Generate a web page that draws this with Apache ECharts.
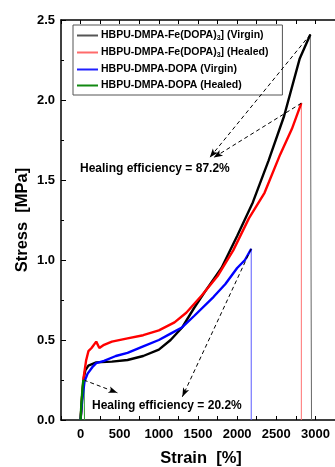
<!DOCTYPE html>
<html>
<head>
<meta charset="utf-8">
<script src="https://cdn.jsdelivr.net/npm/echarts@6/dist/echarts.min.js"></script>
<style>
  html, body { margin: 0; padding: 0; background: #fff; }
  #chart { width: 335px; height: 467px; }
</style>
</head>
<body>
<div id="chart"></div>
<script>
// HBPU-DMPA-Fe(DOPA)3 virgin
const feVirginStrain = [0, 20, 40, 60, 100, 200, 400, 600, 800, 1000, 1150, 1300, 1450, 1600, 1800, 2000, 2200, 2400, 2600, 2800, 2935]
const feVirginStress = [0, 0.15, 0.26, 0.31, 0.34, 0.36, 0.365, 0.375, 0.40, 0.44, 0.50, 0.58, 0.70, 0.81, 0.95, 1.15, 1.36, 1.62, 1.90, 2.26, 2.41]
// HBPU-DMPA-Fe(DOPA)3 healed
const feHealedStrain = [0, 20, 40, 70, 100, 140, 200, 240, 300, 400, 600, 800, 1000, 1200, 1350, 1550, 1750, 1950, 2150, 2350, 2550, 2700, 2820]
const feHealedStress = [0, 0.15, 0.27, 0.37, 0.43, 0.45, 0.49, 0.45, 0.47, 0.49, 0.51, 0.53, 0.56, 0.61, 0.67, 0.78, 0.90, 1.06, 1.26, 1.42, 1.66, 1.82, 1.98]
// HBPU-DMPA-DOPA virgin
const dopaVirginStrain = [0, 20, 50, 90, 150, 200, 300, 450, 600, 800, 1000, 1150, 1300, 1450, 1700, 1850, 2000, 2100, 2180]
const dopaVirginStress = [0, 0.12, 0.24, 0.29, 0.33, 0.355, 0.37, 0.40, 0.42, 0.46, 0.50, 0.54, 0.58, 0.65, 0.77, 0.85, 0.95, 1.00, 1.07]
// HBPU-DMPA-DOPA healed
const dopaHealedStrain = [0, 10, 25, 35, 45]
const dopaHealedStress = [0, 0.10, 0.20, 0.25, 0.24]
// strain at which each sample breaks
const breakStrain = [2950, 2820, 2180, 50]

const xTicks = [0, 500, 1000, 1500, 2000, 2500, 3000]

const upperArrows = [[[2935, 2.41], [1650, 1.64]], [[2820, 1.98], [1700, 1.64]]]
const lowerArrows = [[[40, 0.25], [470, 0.17]], [[2180, 1.07], [1300, 0.145]]]

const names = [
  'HBPU-DMPA-Fe(DOPA)3] (Virgin)',
  'HBPU-DMPA-Fe(DOPA)3] (Healed)',
  'HBPU-DMPA-DOPA (Virgin)',
  'HBPU-DMPA-DOPA (Healed)'
]
const colors = ['#000000', '#ff0000', '#0000ff', '#008000']
const dropColors = ['#666666', '#ff7070', '#5a5aff', '#2a9a2a']
const legendColors = ['#555555', '#ff6b6b', '#2020ff', '#118811']

const font = '"Liberation Sans", Arial, sans-serif'
const curves = [
  [feVirginStrain, feVirginStress],
  [feHealedStrain, feHealedStress],
  [dopaVirginStrain, dopaVirginStress],
  [dopaHealedStrain, dopaHealedStress]
]

function arrowData(list) {
  return list.map(([a, b]) => [
    { coord: a, symbol: 'none' },
    { coord: b, symbol: 'arrow', symbolSize: [5, 9] }
  ])
}

const series = []
curves.forEach(([xs, ys], i) => {
  series.push({
    type: 'line',
    name: names[i],
    data: xs.map((x, k) => [x, ys[k]]),
    symbol: 'none',
    lineStyle: { width: 2.4, color: colors[i] },
    itemStyle: { color: colors[i] },
    z: 3 + (i === 3 ? 2 : 0)
  })
  const last = xs.length - 1
  series.push({
    type: 'line',
    name: names[i] + ' break',
    data: [[xs[last], ys[last]], [breakStrain[i], ys[last]], [breakStrain[i], 0]],
    symbol: 'none',
    silent: true,
    lineStyle: { width: 1, color: dropColors[i] },
    z: 2
  })
})

series.push({
  type: 'line',
  name: 'arrows',
  data: [],
  silent: true,
  markLine: {
    silent: true,
    animation: false,
    label: { show: false },
    lineStyle: { color: '#000', type: [4, 3], width: 1 },
    data: arrowData(upperArrows).concat(arrowData(lowerArrows))
  }
})

const chart = echarts.init(document.getElementById('chart'))
chart.setOption({
  animation: false,
  textStyle: { fontFamily: font },
  grid: { left: 61, top: 20, right: 0, bottom: 47, outerBoundsMode: 'none', containLabel: false },
  legend: {
    data: names.map((n, i) => ({ name: n, itemStyle: { color: legendColors[i] } })),
    orient: 'vertical',
    left: 73,
    top: 25,
    padding: [5, 14, 4, 4],
    itemGap: 5,
    itemWidth: 21,
    itemHeight: 2,
    icon: 'rect',
    borderColor: '#555',
    borderWidth: 1,
    selectedMode: false,
    formatter: (n) => {
      if (n.indexOf('(DOPA)3]') >= 0) {
        const parts = n.split('(DOPA)3]')
        return '{a|' + parts[0] + '(DOPA)}{s|3}{a|]' + parts[1] + '}'
      }
      return '{a|' + n + '}'
    },
    textStyle: {
      fontFamily: font,
      fontWeight: 'bold',
      fontSize: 10.5,
      color: '#000',
      padding: [0, 0, 0, -2],
      rich: {
        a: { fontFamily: font, fontWeight: 'bold', fontSize: 10.5, color: '#000' },
        s: { fontFamily: font, fontWeight: 'bold', fontSize: 7, color: '#000', verticalAlign: 'bottom', padding: [6, 0, 0, 0] }
      }
    }
  },
  xAxis: [
    {
      type: 'value',
      min: -250,
      max: 3250,
      interval: 250,
      name: 'Strain  [%]',
      nameLocation: 'middle',
      nameGap: 30,
      nameMoveOverlap: false,
      nameTextStyle: { fontFamily: font, fontWeight: 'bold', fontSize: 16.5, color: '#000', padding: [0, 0, 0, 6] },
      axisLine: { show: true, onZero: false, lineStyle: { color: '#000', width: 1.5 } },
      axisTick: { show: true, inside: true, length: 4, lineStyle: { color: '#000', width: 1 } },
      axisLabel: {
        fontFamily: font, fontWeight: 'bold', fontSize: 13, color: '#000', margin: 8,
        formatter: (v) => (xTicks.indexOf(v) >= 0 ? String(v) : '')
      },
      splitLine: { show: false }
    },
    {
      type: 'value',
      position: 'top',
      min: -250,
      max: 3250,
      interval: 250,
      axisLine: { show: true, onZero: false, lineStyle: { color: '#000', width: 1.5 } },
      axisTick: { show: true, inside: true, length: 4, lineStyle: { color: '#000', width: 1 } },
      axisLabel: { show: false },
      splitLine: { show: false }
    }
  ],
  yAxis: {
    type: 'value',
    min: 0,
    max: 2.5,
    interval: 0.5,
    name: 'Stress  [MPa]',
    nameLocation: 'middle',
    nameGap: 30,
    nameMoveOverlap: false,
    nameTextStyle: { fontFamily: font, fontWeight: 'bold', fontSize: 16.5, color: '#000' },
    axisLine: { show: true, onZero: false, lineStyle: { color: '#000', width: 1.5 } },
    axisTick: { show: true, inside: true, length: 5, lineStyle: { color: '#000', width: 1 } },
    minorTick: { show: true, splitNumber: 2, length: 3, lineStyle: { color: '#000', width: 1 } },
    axisLabel: {
      fontFamily: font, fontWeight: 'bold', fontSize: 13, color: '#000', margin: 6,
      formatter: (v) => v.toFixed(1)
    },
    splitLine: { show: false }
  },
  graphic: [
    {
      type: 'text', left: 80, top: 163,
      style: { text: 'Healing efficiency = 87.2%', fontFamily: font, fontWeight: 'bold', fontSize: 12, fill: '#000' }
    },
    {
      type: 'text', left: 92, top: 400,
      style: { text: 'Healing efficiency = 20.2%', fontFamily: font, fontWeight: 'bold', fontSize: 12, fill: '#000' }
    }
  ],
  series
})
</script>
</body>
</html>
